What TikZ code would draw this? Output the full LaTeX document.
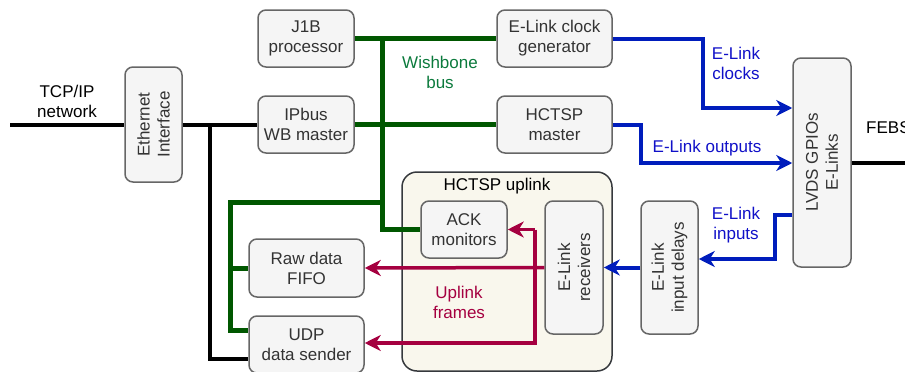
\documentclass[tikz,border=0pt]{standalone}
\usepackage{fontspec}
\setmainfont{Liberation Sans}
\usetikzlibrary{arrows.meta}
\definecolor{boxfill}{HTML}{F5F5F5}
\definecolor{boxdraw}{HTML}{666666}
\definecolor{boxtext}{HTML}{333333}
\definecolor{contfill}{HTML}{F9F7ED}
\definecolor{contdraw}{HTML}{36393D}
\definecolor{wbgreen}{HTML}{005700}
\definecolor{wbtext}{HTML}{0B7A3C}
\definecolor{elblue}{HTML}{001DBC}
\definecolor{eltext}{HTML}{1010C8}
\definecolor{upred}{HTML}{A50040}
\begin{document}
\begin{tikzpicture}[x=1pt,y=-1pt,
  every node/.style={font=\fontsize{17}{20}\selectfont, inner sep=0pt, align=center},
  blk/.style 2 args={rectangle, draw=boxdraw, fill=boxfill, text=boxtext, line width=1.5pt,
    rounded corners=8pt, minimum width=#1, minimum height=#2},
  cont/.style 2 args={rectangle, draw=contdraw, fill=contfill, line width=1.5pt,
    rounded corners=15pt, minimum width=#1, minimum height=#2},
  blkline/.style={draw=black, line width=4pt},
  grline/.style={draw=wbgreen, line width=5pt},
  blline/.style={draw=elblue, line width=4pt, -{Stealth[length=16pt,width=16pt,inset=5pt]}},
  rdline/.style={draw=upred, line width=3.5pt},
  rdtip/.style={-{Stealth[length=16pt,width=16pt,inset=5pt]}},
  lbl/.style={text=black}
]
\useasboundingbox (0,0) rectangle (905,372);

% container
\node[cont={210pt}{199pt}] (cont) at (507,271.5) {};
\node[lbl] (contlbl) at (497,186) {HCTSP uplink};

% boxes
\node[blk={115pt}{57pt}, rotate=90] (eth) at (153.5,124.5) {Ethernet\\Interface};
\node[blk={96pt}{57pt}] (j1b) at (306,38.5) {J1B\\processor};
\node[blk={96pt}{57pt}] (ipbus) at (306,124.5) {IPbus\\WB master};
\node[blk={115pt}{57pt}] (clk) at (554.5,38.5) {E-Link clock\\generator};
\node[blk={115pt}{57pt}] (hm) at (554.5,124.5) {HCTSP\\master};
\node[blk={209pt}{58pt}, rotate=90] (lvds) at (822,162.5) {LVDS GPIOs\\E-Links};
\node[blk={86pt}{57pt}] (ack) at (464,229.5) {ACK\\monitors};
\node[blk={133pt}{58pt}, rotate=90] (recv) at (574,267.5) {E-Link\\receivers};
\node[blk={133pt}{57pt}, rotate=90] (delays) at (669.5,267.5) {E-Link\\input delays};
\node[blk={115pt}{58pt}] (fifo) at (306.5,268) {Raw data\\FIFO};
\node[blk={115pt}{57pt}] (udp) at (306.5,344.5) {UDP\\data sender};

% free text
\node[lbl] (tcplbl) at (67,101) {TCP/IP\\network};
\node[lbl, anchor=west] (febs) at (866,128) {FEBS};
\node[text=wbtext] (wblbl) at (440,72) {Wishbone\\bus};
\node[text=eltext] (clklbl) at (736,63) {E-Link\\clocks};
\node[text=eltext] (outlbl) at (707,148) {E-Link outputs};
\node[text=eltext] (inlbl) at (736,225) {E-Link\\inputs};
\node[text=upred] (uplbl) at (459,302) {Uplink\\frames};

% coordinates
\coordinate (tcp) at (10,124.5);
\coordinate (jn) at (210,124.5);
\coordinate (febsend) at (905,163);
\coordinate (bt) at (382,38.5);
\coordinate (g1) at (382,202);
\coordinate (g2) at (230,202);
\coordinate (c1) at (703,108);
\coordinate (c2) at (641,163);
\coordinate (c3) at (775,215);
\coordinate (c4) at (775,259);
\coordinate (r1) at (535,343);

% black
\draw[blkline] (tcp) -- (eth.north);
\draw[blkline] (eth.south) -- (ipbus.west);
\draw[blkline] (jn) |- ([yshift=-14pt]udp.west);
\draw[blkline] (lvds.south |- febsend) -- (febsend);

% green
\draw[grline] (j1b.east) -- (clk.west);
\draw[grline] (ipbus.east) -- (hm.west);
\draw[grline] (bt) |- (ack.west);
\draw[grline] (g1) -- (g2) |- ([yshift=14pt]udp.west);
\draw[grline] (g2 |- fifo.west) -- (fifo.west);

% blue
\draw[blline] (clk.east) -| (c1) -- (c1 -| lvds.north);
\draw[blline] (hm.east) -| (c2) -- (c2 -| lvds.north);
\draw[blline] (lvds.north |- c3) -- (c3) -- (c4) -- (delays.south |- c4);
\draw[blline] (delays.north) -- (recv.south);

% red
\draw[rdline, rdtip] (recv.north) -- (fifo.east);
\draw[rdline, rdtip] (r1 |- ack.east) -- (ack.east);
\draw[rdline, rdtip] (r1 |- ack.east) -- (r1) -- (r1 -| udp.east);
\end{tikzpicture}
\end{document}
